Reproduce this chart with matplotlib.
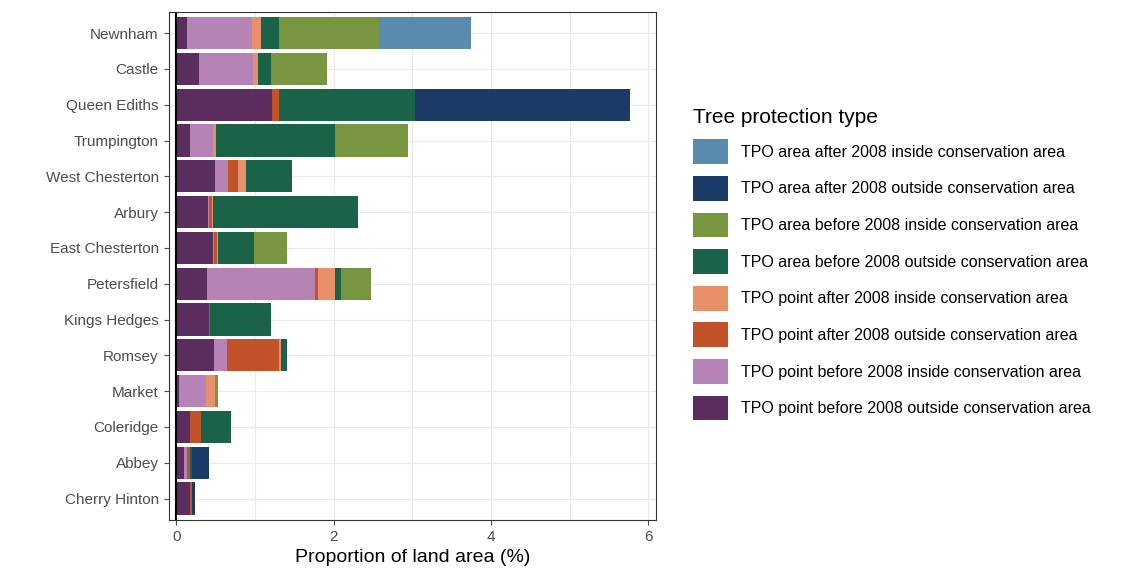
import numpy as np
import matplotlib.pyplot as plt

wards = ["Newnham", "Castle", "Queen Ediths", "Trumpington", "West Chesterton", "Arbury",
         "East Chesterton", "Petersfield", "Kings Hedges", "Romsey", "Market", "Coleridge",
         "Abbey", "Cherry Hinton"]

# segment widths
pt_before_out = [0.14, 0.29, 1.21, 0.17, 0.49, 0.40, 0.46, 0.39, 0.41, 0.48, 0.03, 0.17, 0.09, 0.17]
pt_before_in  = [0.82, 0.69, 0.00, 0.30, 0.17, 0.02, 0.02, 1.37, 0.00, 0.16, 0.34, 0.00, 0.04, 0.00]
pt_after_out  = [0.00, 0.00, 0.10, 0.00, 0.12, 0.03, 0.03, 0.04, 0.02, 0.67, 0.00, 0.14, 0.04, 0.03]
pt_after_in   = [0.12, 0.06, 0.00, 0.03, 0.11, 0.02, 0.02, 0.22, 0.00, 0.02, 0.12, 0.00, 0.00, 0.00]
area_before_out = [0.23, 0.16, 1.72, 1.52, 0.58, 1.84, 0.46, 0.07, 0.77, 0.07, 0.00, 0.38, 0.03, 0.00]
area_before_in  = [1.26, 0.72, 0.00, 0.93, 0.00, 0.00, 0.42, 0.39, 0.00, 0.00, 0.04, 0.00, 0.00, 0.00]
area_after_out  = [0.00, 0.00, 2.74, 0.00, 0.00, 0.00, 0.00, 0.00, 0.00, 0.00, 0.00, 0.00, 0.22, 0.04]
area_after_in   = [1.17, 0.00, 0.00, 0.00, 0.00, 0.00, 0.00, 0.00, 0.00, 0.00, 0.00, 0.00, 0.00, 0.00]

series = [
    ("TPO point before 2008 outside conservation area", pt_before_out, "#5a2d5e"),
    ("TPO point before 2008 inside conservation area", pt_before_in, "#b583b6"),
    ("TPO point after 2008 outside conservation area", pt_after_out, "#c1522a"),
    ("TPO point after 2008 inside conservation area", pt_after_in, "#e8906a"),
    ("TPO area before 2008 outside conservation area", area_before_out, "#1b6348"),
    ("TPO area before 2008 inside conservation area", area_before_in, "#78963f"),
    ("TPO area after 2008 outside conservation area", area_after_out, "#1c3a66"),
    ("TPO area after 2008 inside conservation area", area_after_in, "#5a8aad"),
]

plt.rcParams['font.family'] = ['Liberation Sans', 'DejaVu Sans']
fig = plt.figure(figsize=(11.39, 5.81), dpi=100)
ax = fig.add_axes([0.148, 0.105, 0.428, 0.875])

y = np.arange(len(wards))
left = np.zeros(len(wards))
handles = []
for name, vals, col in series:
    b = ax.barh(y, vals, left=left, height=0.9, color=col, label=name)
    handles.append(b)
    left += np.array(vals)

ax.set_yticks(y)
ax.set_yticklabels(wards, fontsize=11, color="#4d4d4d")
ax.set_ylim(len(wards) - 0.4, -0.6)
ax.set_xlim(-0.1, 6.1)
ax.set_xticks([0, 2, 4, 6])
ax.tick_params(axis='x', labelsize=11, labelcolor="#4d4d4d", color="#4d4d4d")
ax.tick_params(axis='y', color="#4d4d4d")
ax.set_xticks([1, 3, 5], minor=True)
ax.tick_params(which='minor', length=0)
ax.grid(True, which='both', color="#ebebeb", lw=0.8)
ax.set_axisbelow(True)
ax.axvline(0, color="black", lw=1.5)
for s in ax.spines.values():
    s.set_color("#333333")
    s.set_linewidth(0.8)
ax.set_xlabel("Proportion of land area (%)", fontsize=14)

leg = fig.legend(handles[::-1], [h.get_label() for h in handles[::-1]],
                 loc="center left", bbox_to_anchor=(0.596, 0.545), frameon=False,
                 title="Tree protection type", title_fontsize=15, fontsize=11.5,
                 handlelength=2.2, handleheight=2.0, labelspacing=0.75)
leg._legend_box.align = "left"

fig.savefig("out.png")
